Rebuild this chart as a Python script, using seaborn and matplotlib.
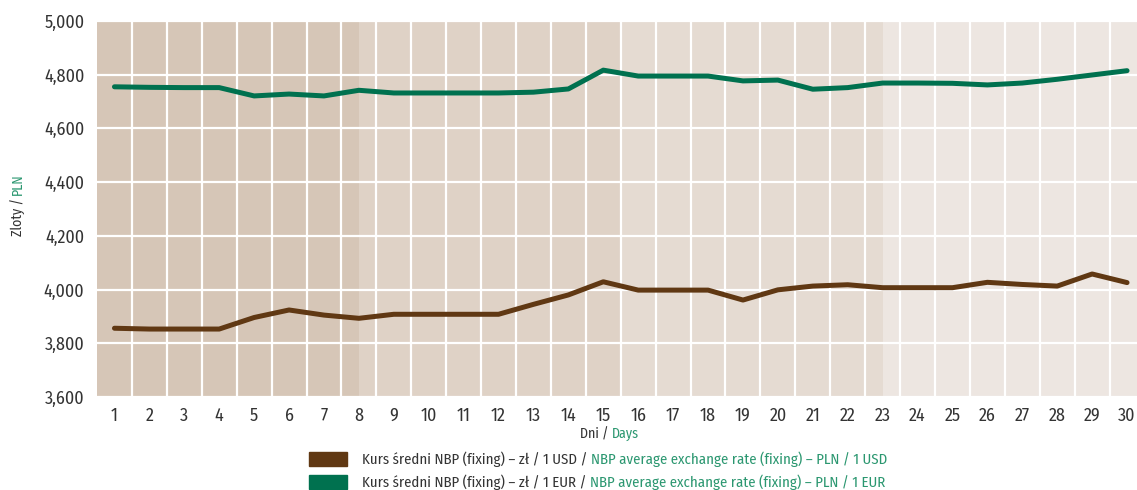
"""NBP average exchange rate (fixing), PLN per 1 USD / 1 EUR, by day."""

import matplotlib

matplotlib.use("Agg")
import matplotlib.pyplot as plt
import matplotlib.ticker as mticker
import pandas as pd
import seaborn as sns

days = list(range(1, 31))
usd = [3856, 3853, 3853, 3853, 3896, 3924, 3905, 3893, 3908, 3908,
       3908, 3908, 3945, 3980, 4029, 3998, 3998, 3998, 3961, 3999,
       4013, 4018, 4007, 4007, 4007, 4027, 4019, 4013, 4058, 4026]
eur = [4755, 4753, 4752, 4752, 4721, 4728, 4721, 4742, 4732, 4732,
       4732, 4732, 4735, 4747, 4817, 4795, 4795, 4795, 4777, 4780,
       4746, 4752, 4769, 4769, 4768, 4762, 4769, 4783, 4799, 4815]
series_pl = ["Kurs średni NBP (fixing) – zł / 1 USD",
             "Kurs średni NBP (fixing) – zł / 1 EUR"]
series_en = ["NBP average exchange rate (fixing) – PLN / 1 USD",
             "NBP average exchange rate (fixing) – PLN / 1 EUR"]
band_edges = [0.5, 8, 15.5, 23, 30.5]

BROWN = "#603813"
GREEN = "#00714f"
LIGHT_GREEN = "#2b9770"
TEXT = "#333333"
BAND_COLORS = ["#d6c6b7", "#dfd2c6", "#e5dbd2", "#ede6e1"]
W, H = 1137, 490

sns.set_style("white")
plt.rcParams["font.family"] = ["Fira Sans Condensed", "DejaVu Sans"]

df = pd.DataFrame({
    "day": days * 2,
    "rate": usd + eur,
    "series": ["USD"] * len(days) + ["EUR"] * len(days),
})

fig = plt.figure(figsize=(W / 100, H / 100), dpi=100)
renderer = fig.canvas.get_renderer()


def fit_size(s, width_px, base=12.0):
    """Font size at which s is width_px wide."""
    t = fig.text(0, 0, s, fontsize=base)
    w = t.get_window_extent(renderer).width
    t.remove()
    return base * width_px / w


tick_size = fit_size("5,000", 40)
label_size = fit_size("Dni / Days", 59)
legend_size = fit_size(series_pl[0] + " / " + series_en[0], 524)

ax = fig.add_axes([97 / W, 1 - 397 / H, 1047.5 / W, 376 / H])

for lo, hi, c in zip(band_edges[:-1], band_edges[1:], BAND_COLORS):
    ax.axvspan(lo, hi, color=c, lw=0, zorder=0)

sns.lineplot(data=df, x="day", y="rate", hue="series",
             palette={"USD": BROWN, "EUR": GREEN}, linewidth=3.6,
             legend=False, ax=ax, zorder=3)

ax.set_xlim(0.5, 30.5)
ax.set_ylim(3600, 5000)
ax.set_xticks(days)
ax.set_yticks(range(3600, 5001, 200))
ax.yaxis.set_major_formatter(mticker.FuncFormatter(lambda v, _: f"{int(v):,}"))
ax.set_xticks([d + 0.5 for d in days[:-1]], minor=True)
ax.grid(False)
ax.grid(axis="y", which="major", color="white", lw=1.6, zorder=1)
ax.grid(axis="x", which="minor", color="white", lw=1.6, zorder=1)
ax.tick_params(axis="both", which="both", length=0, labelsize=tick_size,
               labelcolor=TEXT)
ax.tick_params(axis="x", pad=7)
ax.tick_params(axis="y", pad=9)
ax.set_xlabel("")
ax.set_ylabel("")
for s in ax.spines.values():
    s.set_visible(False)


def two_tone(x, y, parts, size, rotation=0):
    """Place text pieces one after another in their own colours (pixel coords)."""
    for text, color in parts:
        t = fig.text(x / W, 1 - y / H, text, color=color, fontsize=size,
                     rotation=rotation, ha="left" if rotation == 0 else "center",
                     va="center" if rotation == 0 else "bottom")
        bb = t.get_window_extent(renderer)
        if rotation == 0:
            x += bb.width
        else:
            y -= bb.height


two_tone(18, 236, [("Zloty / ", TEXT), ("PLN", LIGHT_GREEN)], label_size,
         rotation=90)
two_tone(580, 434, [("Dni / ", TEXT), ("Days", LIGHT_GREEN)], label_size)

for i, (pl, en, c) in enumerate(zip(series_pl, series_en, [BROWN, GREEN])):
    yc = 459 + i * 23
    fig.patches.append(plt.Rectangle((309 / W, 1 - (yc + 7) / H),
                                     38 / W, 14 / H, color=c,
                                     transform=fig.transFigure, figure=fig))
    two_tone(362, yc, [(pl + " / ", TEXT), (en, LIGHT_GREEN)], legend_size)

fig.savefig("out.png", dpi=100)
